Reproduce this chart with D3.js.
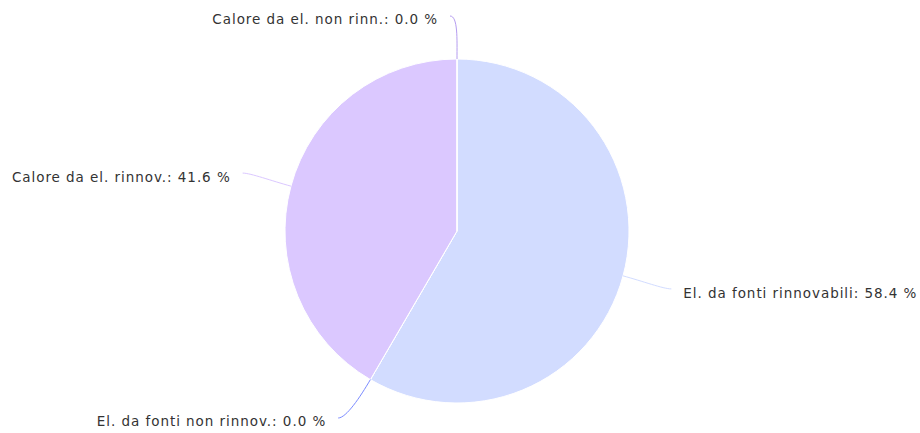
<!DOCTYPE html>
<html>
<head>
<meta charset="utf-8">
<script src="https://cdn.jsdelivr.net/npm/d3@7"></script>
<style>
  body { margin: 0; background: #fff; }
  svg text { font-family: "DejaVu Sans", sans-serif; font-size: 13.5px; letter-spacing: 0.95px; fill: #333; }
</style>
</head>
<body>
<div id="chart"></div>
<script>
// data
var categories = ["El. da fonti rinnovabili", "El. da fonti non rinnov.", "Calore da el. rinnov.", "Calore da el. non rinn."];
var shares = [58.4, 0.0, 41.6, 0.0];
var colors = ["#d2dcff", "#7b8bff", "#dbc8ff", "#b59cf0"];

var width = 920;
var height = 433;
var cx = 457;
var cy = 231;
var radius = 172;
var labelDistance = 50;

var svg = d3.select("#chart")
    .append("svg")
    .attr("width", width)
    .attr("height", height);

var data = categories.map(function(c, i) {
    return { name: c, value: shares[i], color: colors[i] };
});

var pie = d3.pie()
    .sort(null)
    .value(function(d) { return d.value; });

var arc = d3.arc()
    .innerRadius(0)
    .outerRadius(radius);

var arcs = pie(data);

var g = svg.append("g")
    .attr("transform", `translate(${cx}, ${cy})`);

// slices
g.selectAll("path.slice")
    .data(arcs)
    .enter()
    .append("path")
    .attr("class", "slice")
    .attr("d", arc)
    .attr("fill", function(d) { return d.data.color; })
    .attr("stroke", "#fff")
    .attr("stroke-width", 1);

function polar(angle, r) {
    return [r * Math.sin(angle), -r * Math.cos(angle)];
}

// labels + connectors
arcs.forEach(function(d) {
    var mid = (d.startAngle + d.endAngle) / 2;
    var left = Math.sin(mid) < 0 || (d.endAngle - d.startAngle === 0 && Math.sin(mid) <= 0.001);
    var edge = polar(mid, radius);
    var bend = polar(mid, radius + 20);
    var anchor = polar(mid, radius + labelDistance);
    // keep labels inside the chart
    var clamped = false;
    if (anchor[1] < 16 - cy) { anchor[1] = 16 - cy; clamped = true; }
    if (anchor[1] > 418 - cy) { anchor[1] = 418 - cy; clamped = true; }
    if (clamped) anchor[0] -= 7;
    var dir = left ? 1 : -1;

    var path = d3.path();
    path.moveTo(anchor[0], anchor[1]);
    path.bezierCurveTo(anchor[0] + dir * 8, anchor[1], bend[0], bend[1], edge[0], edge[1]);

    g.append("path")
        .attr("d", path.toString())
        .attr("fill", "none")
        .attr("stroke", d.data.color)
        .attr("stroke-width", 1);

    g.append("text")
        .attr("x", anchor[0] + (left ? -12 : 12))
        .attr("y", anchor[1] + (clamped ? 8 : 9))
        .attr("text-anchor", left ? "end" : "start")
        .text(d.data.name + ": " + d.data.value.toFixed(1) + " %");
});
</script>
</body>
</html>
